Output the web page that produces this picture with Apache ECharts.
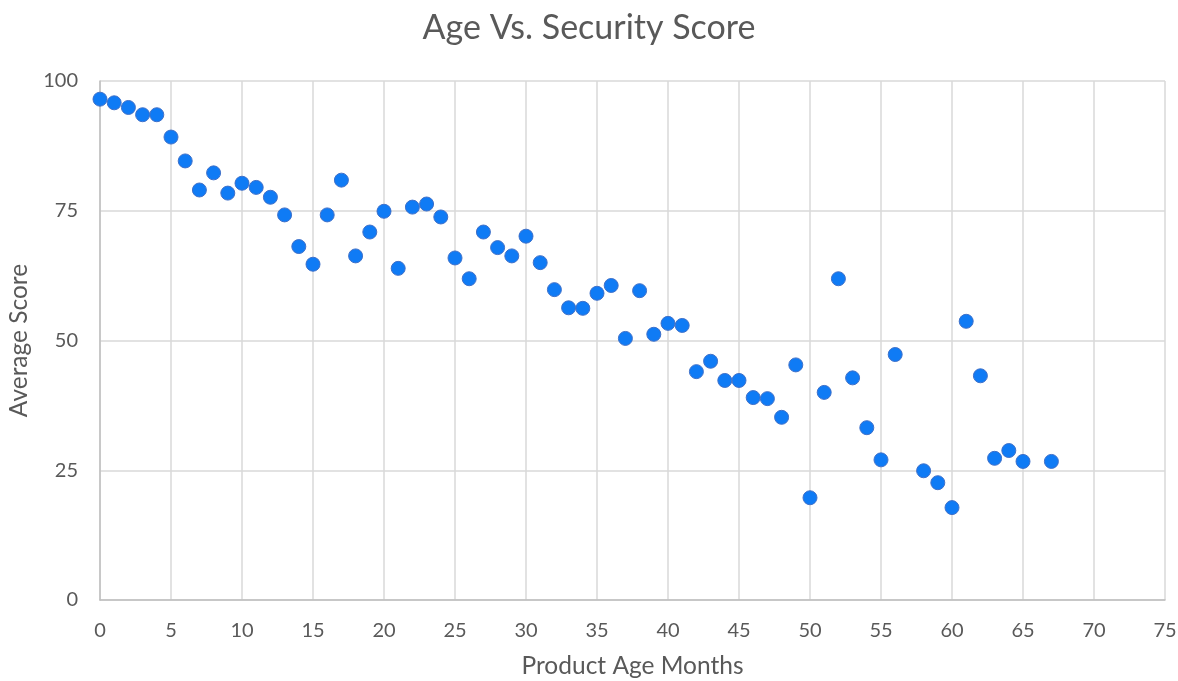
<!DOCTYPE html>
<html>
<head>
<meta charset="utf-8">
<script src="https://cdn.jsdelivr.net/npm/echarts@6/dist/echarts.min.js"></script>
<style>html,body{margin:0;padding:0;background:#fff}#c{width:1178px;height:681px}</style>
</head>
<body>
<div id="c"></div>
<script>
const ages = [0,1,2,3,4,5,6,7,8,9,10,11,12,13,14,15,16,17,18,19,20,21,22,23,24,25,26,27,28,29,30,31,32,33,34,35,36,37,38,39,40,41,42,43,44,45,46,47,48,49,50,51,52,53,54,55,56,58,59,60,61,62,63,64,65,67];
const scores = [96.5,95.8,94.9,93.5,93.5,89.2,84.6,79.0,82.3,78.4,80.3,79.5,77.6,74.2,68.1,64.7,74.2,80.9,66.3,70.9,74.9,63.9,75.7,76.3,73.8,65.9,61.9,70.9,67.9,66.3,70.1,65.0,59.8,56.3,56.2,59.1,60.6,50.4,59.6,51.2,53.3,52.9,44.0,46.0,42.3,42.3,39.0,38.8,35.2,45.3,19.7,40.0,61.9,42.8,33.2,27.0,47.3,24.9,22.6,17.8,53.7,43.2,27.3,28.8,26.7,26.7];
const title = "Age Vs. Security Score";
const xName = "Product Age Months";
const yName = "Average Score";

const data = ages.map((a, i) => [a, scores[i]]);
const font = "Lato, 'Open Sans', sans-serif";
const chart = echarts.init(document.getElementById('c'));
chart.setOption({
  animation: false,
  title: { text: title, left: 'center', top: 6,
    textStyle: { fontFamily: font, fontSize: 34, fontWeight: 'normal', color: '#595959' } },
  grid: { left: 100, right: 13, top: 81, bottom: 81, containLabel: false, outerBoundsMode: 'none' },
  xAxis: {
    type: 'value', min: 0, max: 75, interval: 5,
    name: xName, nameLocation: 'middle', nameGap: 54,
    nameTextStyle: { fontFamily: font, fontSize: 24.5, color: '#595959' },
    axisLine: { show: true, lineStyle: { color: '#bfbfbf', width: 1.5 } },
    axisTick: { show: false },
    axisLabel: { fontFamily: font, fontSize: 20, color: '#595959', margin: 21 },
    splitLine: { show: true, lineStyle: { color: '#d9d9d9', width: 1.5 } }
  },
  yAxis: {
    type: 'value', min: 0, max: 100, interval: 25,
    name: yName, nameLocation: 'middle', nameGap: 68, nameRotate: 90,
    nameTextStyle: { fontFamily: font, fontSize: 24.5, color: '#595959' },
    axisLine: { show: true, lineStyle: { color: '#bfbfbf', width: 1.5 } },
    axisTick: { show: false },
    axisLabel: { fontFamily: font, fontSize: 20, color: '#595959', margin: 22 },
    splitLine: { show: true, lineStyle: { color: '#d9d9d9', width: 1.5 } }
  },
  series: [{
    type: 'scatter', data: data, symbol: 'circle', symbolSize: 14,
    itemStyle: { color: '#0f7bf5', borderColor: '#3f70c8', borderWidth: 1, opacity: 1 }
  }]
});
</script>
</body>
</html>
